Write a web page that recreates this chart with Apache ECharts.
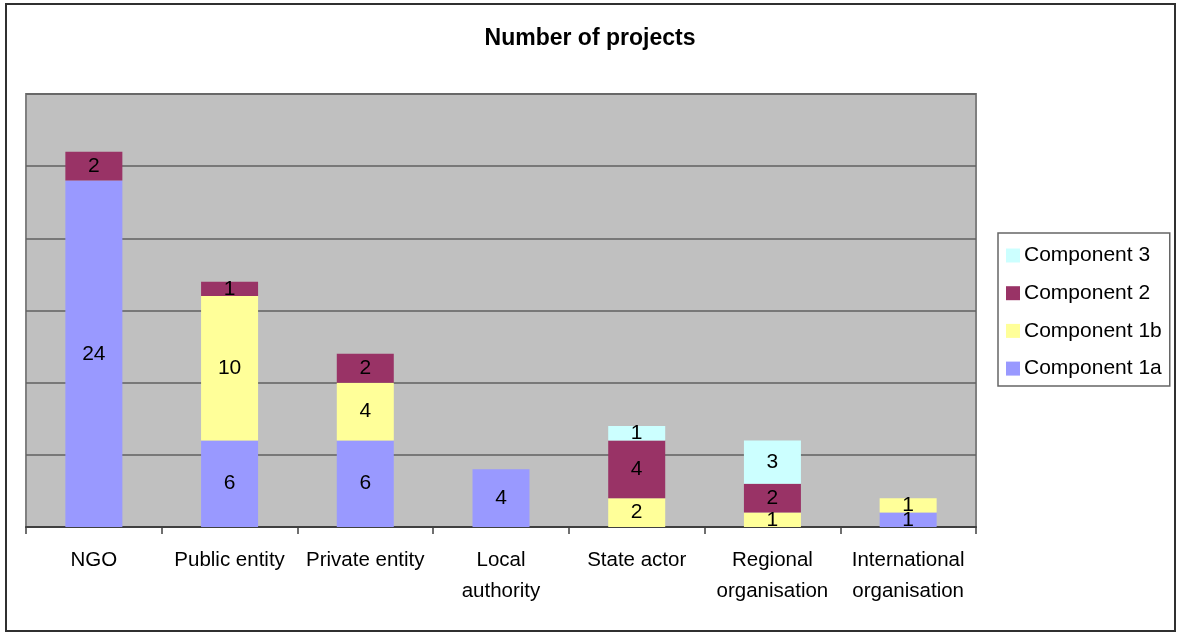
<!DOCTYPE html>
<html>
<head>
<meta charset="utf-8">
<script src="https://cdn.jsdelivr.net/npm/echarts@6/dist/echarts.min.js"></script>
<style>
html,body{margin:0;padding:0;background:#fff;}
#c{width:1180px;height:636px;}
</style>
</head>
<body>
<div id="c"></div>
<script>
const categories = ['NGO', 'Public entity', 'Private entity', 'Local\nauthority', 'State actor', 'Regional\norganisation', 'International\norganisation'];
const comp1a = [24, 6, 6, 4, null, null, 1];
const comp1b = [null, 10, 4, null, 2, 1, 1];
const comp2  = [2, 1, 2, null, 4, 2, null];
const comp3  = [null, null, null, null, 1, 3, null];
const seriesNames = ['Component 1a', 'Component 1b', 'Component 2', 'Component 3'];
const seriesColors = ['#9999FF', '#FFFF99', '#993366', '#CCFFFF'];
const seriesData = [comp1a, comp1b, comp2, comp3];

const FONT = 'Liberation Sans, Arial, sans-serif';
const chart = echarts.init(document.getElementById('c'), null, {renderer: 'canvas'});

const series = seriesNames.map((name, i) => ({
  name: name,
  type: 'bar',
  stack: 'total',
  barWidth: 57,
  data: seriesData[i],
  itemStyle: {color: seriesColors[i]},
  label: {
    show: true,
    position: 'inside',
    color: '#000',
    fontSize: 21,
    fontFamily: FONT,
    formatter: p => (p.value ? String(p.value) : '')
  },
  emphasis: {disabled: true}
}));

chart.setOption({
  animation: false,
  backgroundColor: '#fff',
  title: {
    text: 'Number of projects',
    left: 'center',
    top: 22,
    textStyle: {fontFamily: FONT, fontSize: 23, fontWeight: 'bold', color: '#000'}
  },
  legend: {
    orient: 'vertical',
    left: 998,
    top: 233,
    data: ['Component 3', 'Component 2', 'Component 1b', 'Component 1a'],
    icon: 'rect',
    itemWidth: 14,
    itemHeight: 14,
    itemGap: 16.7,
    padding: [12, 8, 7, 8],
    borderColor: '#666',
    borderWidth: 1.5,
    textStyle: {fontFamily: FONT, fontSize: 21, color: '#000', padding: [0, 0, 0, -1]},
    selectedMode: false
  },
  grid: {
    left: 26,
    right: 204,
    top: 94,
    bottom: 109,
    show: true,
    backgroundColor: '#C0C0C0',
    borderColor: '#808080',
    borderWidth: 2
  },
  xAxis: {
    type: 'category',
    data: categories,
    axisLine: {lineStyle: {color: '#404040', width: 2}},
    axisTick: {show: true, length: 7, lineStyle: {color: '#404040', width: 1.5}},
    axisLabel: {fontFamily: FONT, fontSize: 20.5, color: '#000', lineHeight: 31, margin: 18, interval: 0}
  },
  yAxis: {
    type: 'value',
    min: 0,
    max: 30,
    interval: 5,
    axisLabel: {show: false},
    axisLine: {show: false},
    axisTick: {show: false},
    splitLine: {lineStyle: {color: '#606060', width: 1.5}}
  },
  graphic: [{
    type: 'rect',
    shape: {x: 6, y: 4, width: 1169, height: 627},
    style: {fill: 'none', stroke: '#303030', lineWidth: 2},
    silent: true,
    z: 100
  }],
  series: series
});
</script>
</body>
</html>
